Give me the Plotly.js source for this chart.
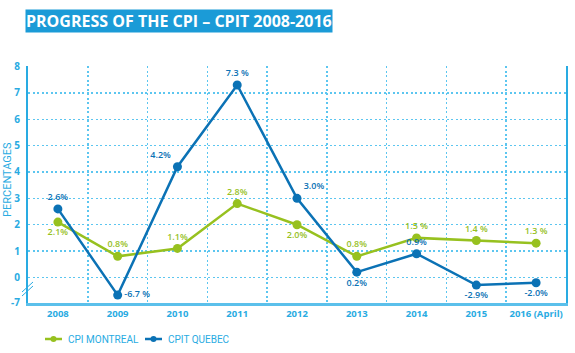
<!DOCTYPE html>
<html>
<head>
<meta charset="utf-8">
<script src="https://cdn.plot.ly/plotly-3.0.1.min.js"></script>
<style>html,body{margin:0;padding:0;background:#fff;}#chart{width:575px;height:353px;}</style>
</head>
<body>
<div id="chart"></div>
<script>
const years = ["2008","2009","2010","2011","2012","2013","2014","2015","2016 (April)"];
const montreal = [2.1, 0.8, 1.1, 2.8, 2.0, 0.8, 1.5, 1.4, 1.3];
const quebec = [2.6, -6.7, 4.2, 7.3, 3.0, 0.2, 0.9, -2.9, -2.0];
const montrealLabels = ["2.1%","0.8%","1.1%","2.8%","2.0%","0.8%","1.5 %","1.4 %","1.3 %"];
const quebecLabels = ["2.6%","-6.7 %","4.2%","7.3 %","3.0%","0.2%","0.9%","-2.9%","-2.0%"];
const montrealPos = ["bottom center","top center","top center","top center","bottom center","top center","top center","top center","top center"];
const quebecPos = ["top center","middle right","top left","top center","top right","bottom center","top center","bottom center","bottom center"];
const yTickVals = [0,1,2,3,4,5,6,7,8];
const seriesNames = ["CPI MONTREAL","CPIT QUEBEC"];

// broken axis: negative values are compressed below zero
const NEG_SCALE = 0.1;
const YMIN = -0.97;
const toAxis = v => v >= 0 ? v : v * NEG_SCALE;

const green = "#97c11f", blue = "#0b72b5", light = "#29abe2", grid = "#5cc6f0";

const W = 575, H = 353, M = {l: 28, r: 9, t: 66, b: 50};
const PW = W - M.l - M.r, PH = H - M.t - M.b;
const px2x = x => (x - M.l) / PW;
const px2y = y => (H - M.b - y) / PH;

const traces = [
  {x: years, y: montreal.map(toAxis), name: seriesNames[0], mode: "lines+markers+text",
   line: {color: green, width: 2.5}, marker: {color: green, size: 9},
   text: montrealLabels, textposition: montrealPos, cliponaxis: false, showlegend: false,
   textfont: {color: green, size: 9, family: "Open Sans", weight: 600}, hoverinfo: "skip"},
  {x: years, y: quebec.map(toAxis), name: seriesNames[1], mode: "lines+markers+text",
   line: {color: blue, width: 2.5}, marker: {color: blue, size: 9},
   text: quebecLabels, textposition: quebecPos, cliponaxis: false, showlegend: false,
   textfont: {color: blue, size: 9, family: "Open Sans", weight: 600}, hoverinfo: "skip"}
];

// custom legend (small symbols as in the reference)
const legendColors = [green, blue];
const legendX = [45, 145];
const legendY = 339;
const legendShapes = [], legendAnn = [];
seriesNames.forEach((n, i) => {
  const x0 = legendX[i];
  legendShapes.push({type: "line", xref: "paper", yref: "paper",
    x0: px2x(x0), x1: px2x(x0 + 17), y0: px2y(legendY), y1: px2y(legendY),
    line: {color: legendColors[i], width: 2.5}});
  legendShapes.push({type: "circle", xref: "paper", yref: "paper",
    x0: px2x(x0 + 5.5), x1: px2x(x0 + 11.5), y0: px2y(legendY - 3), y1: px2y(legendY + 3),
    fillcolor: legendColors[i], line: {width: 0}});
  legendAnn.push({text: n, xref: "paper", yref: "paper", x: px2x(x0 + 21), y: px2y(legendY),
    xanchor: "left", yanchor: "middle", showarrow: false,
    font: {family: "Roboto", size: 10, color: light}});
});

const layout = {
  width: W, height: H,
  margin: M,
  paper_bgcolor: "#fff", plot_bgcolor: "#fff",
  showlegend: false,
  xaxis: {type: "category", range: [-0.5, 8.5], tickson: "boundaries", tickangle: 0,
          showgrid: true, gridcolor: grid, griddash: "2px,2.5px", gridwidth: 1.5,
          showline: true, linecolor: "#5bc0eb", linewidth: 3, ticks: "",
          tickfont: {family: "Open Sans", size: 9.5, color: light, weight: 700},
          zeroline: false, fixedrange: true},
  yaxis: {range: [YMIN, 8.02], tickvals: yTickVals.concat([YMIN + 0.03]),
          ticktext: yTickVals.map(String).concat(["-7"]),
          showgrid: true, gridcolor: grid, griddash: "2px,2.5px", gridwidth: 1.5,
          showline: true, mirror: true, linecolor: light, linewidth: 2, ticks: "",
          ticklabelstandoff: 4,
          tickfont: {family: "Open Sans", size: 10, color: light, weight: 700},
          zeroline: false, fixedrange: true},
  annotations: [
    {text: "PROGRESS OF THE CPI – CPIT 2008-2016", xref: "paper", yref: "paper",
     x: px2x(25), y: px2y(9), xanchor: "left", yanchor: "top", showarrow: false,
     bgcolor: "#1b9bd7", borderpad: 0,
     font: {family: "Open Sans", size: 16, color: "#fff", weight: 700}},
    {text: "PERCENTAGES", xref: "paper", yref: "paper", x: px2x(7), y: px2y(180),
     xanchor: "center", yanchor: "middle", textangle: -90, showarrow: false,
     font: {family: "Roboto", size: 11, color: light}}
  ].concat(legendAnn),
  shapes: [
    {type: "line", xref: "paper", yref: "paper", x0: px2x(22), y0: px2y(292), x1: px2x(33), y1: px2y(282),
     line: {color: light, width: 1}},
    {type: "line", xref: "paper", yref: "paper", x0: px2x(22), y0: px2y(296), x1: px2x(33), y1: px2y(286),
     line: {color: light, width: 1}}
  ].concat(legendShapes)
};

Plotly.newPlot("chart", traces, layout, {displayModeBar: false, staticPlot: true});
</script>
</body>
</html>
